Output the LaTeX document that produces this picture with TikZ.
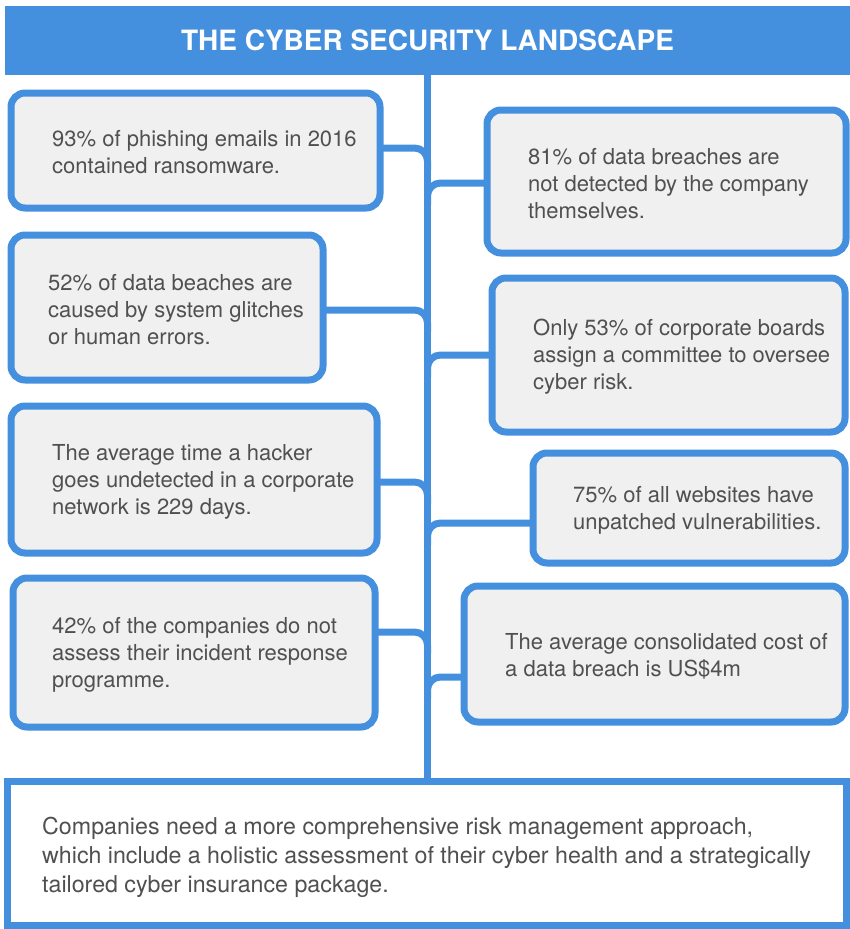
\documentclass[tikz,border=0pt]{standalone}
\usepackage{fontspec}
\setmainfont{TeX Gyre Heros}
\usetikzlibrary{positioning}
\definecolor{skyblue}{HTML}{4490DE}
\definecolor{boxgray}{HTML}{F0F0F0}
\definecolor{txtgray}{HTML}{505050}

\begin{document}
\begin{tikzpicture}[x=1pt,y=-1pt,
    header/.style={rectangle,fill=skyblue,minimum width=845pt,minimum height=69pt,text=white,font=\bfseries\fontsize{28}{32}\selectfont},
    fact/.style={rectangle,rounded corners=14pt,draw=skyblue,fill=boxgray,line width=7pt,outer sep=0pt,anchor=west},
    facttext/.style={align=left,text=txtgray,inner sep=0pt,yshift=-2pt,font=\fontsize{22}{27}\selectfont},
    summary/.style={rectangle,draw=skyblue,fill=white,line width=7pt,outer sep=0pt,anchor=west},
    link/.style={draw=skyblue,line width=7pt,rounded corners=13pt},
    ]
    \useasboundingbox (0,0) rectangle (850,929);
    \node[header] (title) at (427.5,40.5) {THE CYBER SECURITY LANDSCAPE};
    \node[summary,minimum width=839pt,minimum height=144pt] (S) at (7,853) {};
    \node[facttext,font=\fontsize{23.2}{29}\selectfont,right=35pt of S.west,yshift=-2pt] (s) {Companies need a more comprehensive risk management approach,\\which include a holistic assessment of their cyber health and a strategically\\tailored cyber insurance package.};

    \draw[link] (title.south) -- (title.south |- S.north);

    \node[fact,minimum width=369pt,minimum height=115pt] (L1) at (11,150.5) {};
    \node[facttext,right=41pt of L1.west] (l1) {93\% of phishing emails in 2016\\contained ransomware.};
    \node[fact,minimum width=312pt,minimum height=145pt] (L2) at (11,307.5) {};
    \node[facttext,right=37pt of L2.west] (l2) {52\% of data beaches are\\caused by system glitches\\or human errors.};
    \node[fact,minimum width=366pt,minimum height=147pt] (L3) at (11,479.5) {};
    \node[facttext,right=41pt of L3.west] (l3) {The average time a hacker\\goes undetected in a corporate\\network is 229 days.};
    \node[fact,minimum width=362pt,minimum height=149pt] (L4) at (13,652.5) {};
    \node[facttext,right=39pt of L4.west] (l4) {42\% of the companies do not\\assess their incident response\\programme.};

    \node[fact,minimum width=359pt,minimum height=143pt] (R1) at (487,181.5) {};
    \node[facttext,right=41pt of R1.west] (r1) {81\% of data breaches are\\not detected by the company\\themselves.};
    \node[fact,minimum width=353pt,minimum height=154pt] (R2) at (492,355) {};
    \node[facttext,right=41pt of R2.west] (r2) {Only 53\% of corporate boards\\assign a committee to oversee\\cyber risk.};
    \node[fact,minimum width=312pt,minimum height=110pt] (R3) at (533,508) {};
    \node[facttext,right=40pt of R3.west] (r3) {75\% of all websites have\\unpatched vulnerabilities.};
    \node[fact,minimum width=381pt,minimum height=136pt] (R4) at (464,654) {};
    \node[facttext,right=41pt of R4.west] (r4) {The average consolidated cost of\\a data breach is US\$4m};

    \draw[link] ([yshift=2.5pt]L1.east) -| ([yshift=-19.5pt]L1.east -| title.south);
    \draw[link] ([yshift=-1.5pt]R1.west) -| ([yshift=-23.5pt]R1.west -| title.south);
    \draw[link] ([yshift=-2.5pt]L2.east) -| ([yshift=-24.5pt]L2.east -| title.south);
    \draw[link] (R2.west) -| ([yshift=-22pt]R2.west -| title.south);
    \draw[link] ([yshift=-2.5pt]L3.east) -| ([yshift=-24.5pt]L3.east -| title.south);
    \draw[link] ([yshift=-15pt]R3.west) -| ([yshift=-37pt]R3.west -| title.south);
    \draw[link] ([yshift=20.5pt]L4.east) -| ([yshift=-1.5pt]L4.east -| title.south);
    \draw[link] ([yshift=-23pt]R4.west) -| ([yshift=-45pt]R4.west -| title.south);
\end{tikzpicture}
\end{document}
